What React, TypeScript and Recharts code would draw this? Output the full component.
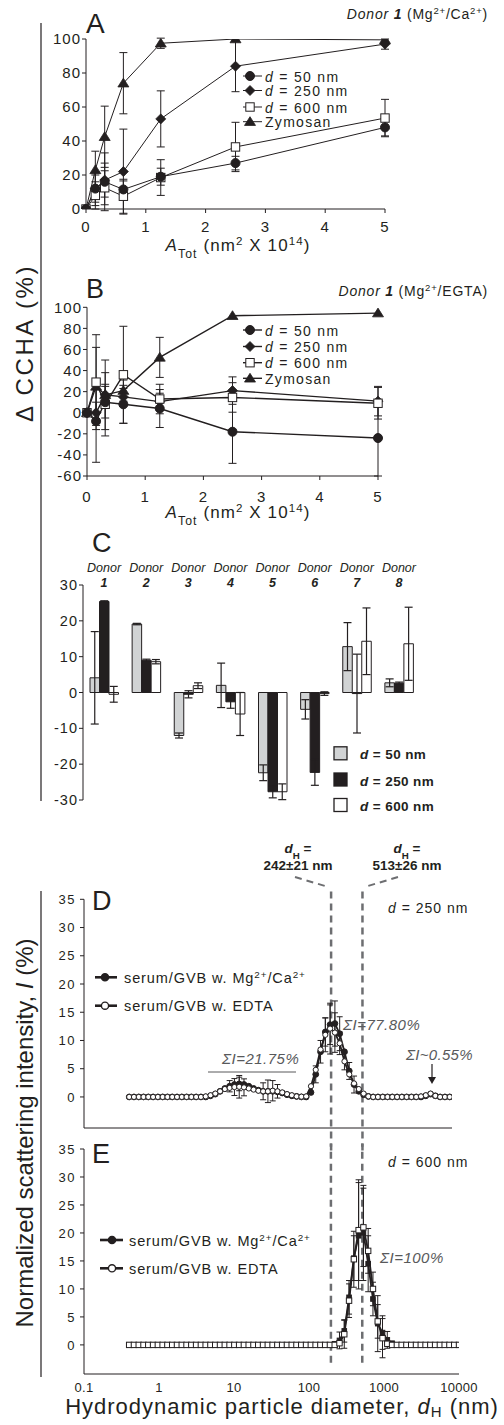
import React from "react";
import { LineChart, Line, BarChart, Bar, XAxis, YAxis, ErrorBar, ReferenceLine } from "recharts";

const FONT = "'Liberation Sans', Arial, Helvetica, sans-serif";
const INK = "#231f20";
const GREY = "#6d6e71";
const NOTE = "#58595b";
const LIGHT = "#d1d3d4";

// ---- panels A & B : total particle surface (nm² x 10^14)
const A_TOT = [0, 0.156, 0.3125, 0.625, 1.25, 2.5, 5];
const A_TICKS = [0, 1, 2, 3, 4, 5];

// A: Mg2+/Ca2+
const CA_D50 = [0, 12, 16, 11.5, 19, 27, 48];
const CA_D50_ERR = [0, 10, 17, 5, 5, 4, 5];
const CA_D250 = [0, 12, 17, 22, 53, 84, 97];
const CA_D250_ERR = [0, 8, 10, 25, 16.5, 15, 3];
const CA_D600 = [0, 8, 12.5, 7.5, 18.5, 36.5, 53.5];
const CA_D600_ERR = [0, 8, 10, 10, 10.5, 14.5, 11];
const CA_ZYM = [0, 23, 42.5, 74, 97.5, 100, 99.5];
const CA_ZYM_ERR = [0, 11, 18, 18, 3, 0, 0];

// B: Mg2+/EGTA
const EG_D50 = [0, -8, 10, 8, 4, -18, -24];
const EG_D50_ERR = [0, 39, 15, 18, 18, 30, 36];
const EG_D250 = [0, 0, 17, 15, 10.5, 21, 11];
const EG_D250_ERR = [0, 10, 10, 8, 8, 13, 14];
const EG_D600 = [0, 29, 8, 36, 13, 14.5, 9];
const EG_D600_ERR = [0, 45, 30, 46, 14, 14, 15];
const EG_ZYM = [0, 25, 17, 21, 52.5, 92, 94.5];
const EG_ZYM_ERR = [0, 37, 33, 10, 19, 0, 0];

// ---- panel C : donors
const DONORS = ["1", "2", "3", "4", "5", "6", "7", "8"];
const C_D50 = [4.1, 19.1, -12, 2, -22.4, -4.7, 12.8, 2.7];
const C_D50_ERR = [12.9, 0.2, 0.7, 6.2, 2.2, 2.7, 6.7, 1.1];
const C_D250 = [25.4, 9.0, -0.5, -2.6, -27.7, -22.3, -0.3, 2.6];
const C_D250_ERR = [0.2, 0.3, 1, 1.8, 1.7, 3.6, 11, 0.3];
const C_D600 = [-0.5, 8.6, 1.9, -6, -27.7, -0.3, 14.3, 13.6];
const C_D600_ERR = [2.2, 0.6, 0.8, 6, 2.2, 0.5, 9.3, 10.2];

// ---- panels D & E : DLS size classes (nm)
const BINS = [
  0.4, 0.4632, 0.5365, 0.6213, 0.7195, 0.8332, 0.9649, 1.117, 1.294, 1.499,
  1.736, 2.01, 2.328, 2.696, 3.122, 3.615, 4.187, 4.849, 5.615, 6.503,
  7.531, 8.721, 10.1, 11.7, 13.54, 15.69, 18.17, 21.04, 24.36, 28.21,
  32.67, 37.84, 43.82, 50.75, 58.77, 68.06, 78.82, 91.28, 105.7, 122.4,
  141.8, 164.2, 190.1, 220.2, 255, 295.3, 342, 396.1, 458.7, 531.2,
  615.1, 712.4, 825, 955.4, 1106, 1281, 1484, 1718, 1990, 2305,
  2669, 3091, 3580, 4145, 4801, 5560, 6439, 7456, 8635, 10000,
];

// D: d = 250 nm (68 classes, up to 7456 nm)
const D_MG = [
  0, 0, 0, 0, 0, 0, 0, 0, 0, 0,
  0, 0, 0, 0, 0, 0, 0, 0.2, 0.5, 1.0,
  1.5, 1.9, 2.2, 2.3, 2.2, 1.9, 1.5, 1.2, 1.0, 1.0,
  1.0, 0.9, 0.7, 0.4, 0.2, 0.1, 0, 0, 0.8, 4.0,
  8.0, 11.5, 12.8, 13.0, 11.2, 8.0, 4.6, 2.2, 1.0, 0.4,
  0.1, 0, 0, 0, 0, 0, 0, 0, 0, 0,
  0, 0, 0.2, 0.5, 0.2, 0, 0, 0,
];
const D_MG_ERR = [
  0, 0, 0, 0, 0, 0, 0, 0, 0, 0,
  0, 0, 0, 0, 0, 0, 0, 0, 0, 0,
  0, 1.0, 0, 1.2, 0, 0, 0, 0, 0, 0,
  0, 0, 0, 0, 0, 0, 0, 0, 0, 1.5,
  2.0, 2.5, 3.5, 4.0, 3.0, 0, 1.5, 1.5, 0, 0,
  0, 0, 0, 0, 0, 0, 0, 0, 0, 0,
  0, 0, 0, 0, 0, 0, 0, 0,
];
const D_EDTA = [
  0, 0, 0, 0, 0, 0, 0, 0, 0, 0,
  0, 0, 0, 0, 0, 0, 0.1, 0.3, 0.6, 1.0,
  1.4, 1.6, 1.75, 1.8, 1.7, 1.5, 1.3, 1.1, 1.0, 1.0,
  1.1, 1.0, 0.8, 0.5, 0.3, 0.1, 0.05, 0.1, 1.9, 4.8,
  8.4, 11.0, 12.1, 11.4, 9.5, 6.3, 4.0, 2.4, 1.4, 0.6,
  0.1, 0, 0, 0, 0, 0, 0, 0, 0, 0,
  0, 0.1, 0.3, 0.6, 0.2, 0, 0, 0,
];
const D_EDTA_ERR = [
  0, 0, 0, 0, 0, 0, 0, 0, 0, 0,
  0, 0, 0, 0, 0, 0, 0, 0, 0, 0,
  0, 0, 1.5, 2.0, 1.5, 0, 0, 0, 1.5, 2.0,
  1.8, 1.2, 0, 0, 0, 0, 0, 0, 0, 0,
  0, 3.0, 4.5, 3.5, 2.0, 1.5, 0, 0, 0, 0,
  0, 0, 0, 0, 0, 0, 0, 0, 0, 0,
  0, 0, 0, 0, 0, 0, 0, 0,
];

// E: d = 600 nm (all 70 classes)
const E_MG = [
  0, 0, 0, 0, 0, 0, 0, 0, 0, 0,
  0, 0, 0, 0, 0, 0, 0, 0, 0, 0,
  0, 0, 0, 0, 0, 0, 0, 0, 0, 0,
  0, 0, 0, 0, 0, 0, 0, 0, 0, 0,
  0, 0, 0, 0.2, 0.8, 2.5, 8.5, 15.5, 19.5, 20.0,
  14.5, 8.2, 3.8, 2.2, 0.9, 0.3, 0, 0, 0, 0,
  0, 0, 0, 0, 0, 0, 0, 0, 0, 0,
];
const E_MG_ERR = [
  0, 0, 0, 0, 0, 0, 0, 0, 0, 0,
  0, 0, 0, 0, 0, 0, 0, 0, 0, 0,
  0, 0, 0, 0, 0, 0, 0, 0, 0, 0,
  0, 0, 0, 0, 0, 0, 0, 0, 0, 0,
  0, 0, 0, 0, 1.5, 2.0, 3.0, 4.0, 9.5, 8.5,
  5.0, 3.0, 5.0, 3.0, 1.5, 0, 0, 0, 0, 0,
  0, 0, 0, 0, 0, 0, 0, 0, 0, 0,
];
const E_EDTA = [
  0, 0, 0, 0, 0, 0, 0, 0, 0, 0,
  0, 0, 0, 0, 0, 0, 0, 0, 0, 0,
  0, 0, 0, 0, 0, 0, 0, 0, 0, 0,
  0, 0, 0, 0, 0, 0, 0, 0, 0, 0,
  0, 0, 0, 0, 0.3, 1.9, 7.9, 15.3, 20.5, 21.0,
  16.8, 10.0, 4.2, 1.2, 0.2, 0, 0, 0, 0, 0,
  0, 0, 0, 0, 0, 0, 0, 0, 0, 0,
];
const E_EDTA_ERR = [
  0, 0, 0, 0, 0, 0, 0, 0, 0, 0,
  0, 0, 0, 0, 0, 0, 0, 0, 0, 0,
  0, 0, 0, 0, 0, 0, 0, 0, 0, 0,
  0, 0, 0, 0, 0, 0, 0, 0, 0, 0,
  0, 0, 0, 0, 0, 2.5, 3.0, 5.0, 9.0, 7.0,
  4.0, 3.0, 3.0, 3.5, 0, 0, 0, 0, 0, 0,
  0, 0, 0, 0, 0, 0, 0, 0, 0, 0,
];

const DH_MARKS = [196, 513];
const DLS_Y_TICKS = [0, 5, 10, 15, 20, 25, 30, 35];
const E_X_TICKS = [0.1, 1, 10, 100, 1000, 10000];
const DECADES = [0.1, 1, 10, 100, 1000];
const STEPS = [1, 2, 3, 4, 5, 6, 7, 8, 9];
const MINOR_E = [...DECADES.flatMap((d) => STEPS.map((s) => +(d * s).toPrecision(3))), 10000];
const MINOR_D = MINOR_E.filter((v) => v <= 8000);

const caRows = A_TOT.map((x, i) => ({
  x,
  d50: CA_D50[i], e50: CA_D50_ERR[i],
  d250: CA_D250[i], e250: CA_D250_ERR[i],
  d600: CA_D600[i], e600: CA_D600_ERR[i],
  zym: CA_ZYM[i], ezym: CA_ZYM_ERR[i],
}));
const egRows = A_TOT.map((x, i) => ({
  x,
  d50: EG_D50[i], e50: EG_D50_ERR[i],
  d250: EG_D250[i], e250: EG_D250_ERR[i],
  d600: EG_D600[i], e600: EG_D600_ERR[i],
  zym: EG_ZYM[i], ezym: EG_ZYM_ERR[i],
}));
const cRows = DONORS.map((donor, i) => ({
  donor,
  d50: C_D50[i], e50: C_D50_ERR[i],
  d250: C_D250[i], e250: C_D250_ERR[i],
  d600: C_D600[i], e600: C_D600_ERR[i],
}));
const dRows = D_MG.map((mg, i) => ({ d: BINS[i], mg, emg: D_MG_ERR[i], edta: D_EDTA[i], eedta: D_EDTA_ERR[i] }));
const eRows = E_MG.map((mg, i) => ({ d: BINS[i], mg, emg: E_MG_ERR[i], edta: E_EDTA[i], eedta: E_EDTA_ERR[i] }));

type Kind = "circle" | "diamond" | "square" | "triangle";

function Shape({ kind, cx, cy, s, fill }: { kind: Kind; cx: number; cy: number; s: number; fill: string }) {
  if (kind === "circle") return <circle cx={cx} cy={cy} r={s} fill={fill} stroke={INK} strokeWidth={1} />;
  if (kind === "square")
    return <rect x={cx - s} y={cy - s} width={2 * s} height={2 * s} fill={fill} stroke={INK} strokeWidth={1} />;
  if (kind === "diamond")
    return <polygon points={`${cx},${cy - s} ${cx + s},${cy} ${cx},${cy + s} ${cx - s},${cy}`} fill={fill} stroke={INK} strokeWidth={0.8} />;
  return (
    <polygon
      points={`${cx},${cy - s} ${cx + s * 1.1},${cy + s * 0.75} ${cx - s * 1.1},${cy + s * 0.75}`}
      fill={fill}
      stroke={INK}
      strokeWidth={0.8}
    />
  );
}

const dot = (kind: Kind, s: number, fill: string) => (p: any) => {
  if (p.cx == null || p.cy == null) return <g key={`n${p.index}`} />;
  return <Shape key={`d${p.index}`} kind={kind} cx={p.cx} cy={p.cy} s={s} fill={fill} />;
};

const tickA = { fill: INK, fontSize: 15, letterSpacing: 1 };
const tickDLS = { fill: INK, fontSize: 13, letterSpacing: 1.5 };

const SERIES_AB: { key: string; err: string; kind: Kind; s: number; fill: string }[] = [
  { key: "zym", err: "ezym", kind: "triangle", s: 5, fill: INK },
  { key: "d250", err: "e250", kind: "diamond", s: 5, fill: INK },
  { key: "d600", err: "e600", kind: "square", s: 4.2, fill: "#fff" },
  { key: "d50", err: "e50", kind: "circle", s: 4.5, fill: INK },
];

function AreaPanel({ rows, top, height, plotTop, plotBottom, plotLeft, plotRight, yDomain, yTicks, tickMargin, lineW }: any) {
  const axisH = 30;
  return (
    <div style={{ position: "absolute", left: 0, top }}>
      <LineChart
        width={504}
        height={height}
        data={rows}
        margin={{ top: plotTop - top, right: 504 - plotRight, bottom: height - (plotBottom - top) - axisH, left: 0 }}
      >
        <XAxis
          type="number"
          dataKey="x"
          domain={[0, 5]}
          ticks={A_TICKS}
          interval={0}
          height={axisH}
          tickSize={4}
          tickMargin={tickMargin}
          stroke={INK}
          tick={tickA}
        />
        <YAxis
          type="number"
          domain={yDomain}
          ticks={yTicks}
          interval={0}
          width={plotLeft}
          tickSize={4}
          tickMargin={1}
          stroke={INK}
          tick={tickA}
          allowDataOverflow
        />
        {SERIES_AB.map((sr) => (
          <Line
            key={sr.key}
            dataKey={sr.key}
            stroke={INK}
            strokeWidth={lineW}
            dot={dot(sr.kind, sr.s, sr.fill)}
            activeDot={false}
            isAnimationActive={false}
          >
            <ErrorBar dataKey={sr.err} width={4} stroke={INK} strokeWidth={1} />
          </Line>
        ))}
      </LineChart>
    </div>
  );
}

function DonorTick({ x, y, payload }: any) {
  return (
    <g>
      <text x={x} y={y - 13} textAnchor="middle" fontStyle="italic" fontSize={12.5} fill={INK}>
        Donor
      </text>
      <text x={x} y={y + 2} textAnchor="middle" fontStyle="italic" fontWeight="bold" fontSize={12.5} fill={INK}>
        {payload.value}
      </text>
    </g>
  );
}

function DonorPanel() {
  const top = 560;
  return (
    <div style={{ position: "absolute", left: 0, top }}>
      <BarChart width={504} height={250} data={cRows} barSize={9.5} barGap={0} margin={{ top: 5, right: 84, bottom: 10, left: 0 }}>
        <XAxis dataKey="donor" orientation="top" height={20} axisLine={false} tickLine={false} tickSize={0} tickMargin={0} tick={<DonorTick />} interval={0} />
        <YAxis type="number" domain={[-30, 30]} ticks={[-30, -20, -10, 0, 10, 20, 30]} interval={0} width={83} tickSize={4} tickMargin={1} stroke={INK} tick={{ fill: INK, fontSize: 14.5, letterSpacing: 1 }} />
        <Bar dataKey="d50" fill={LIGHT} stroke={INK} strokeWidth={1} isAnimationActive={false}>
          <ErrorBar dataKey="e50" width={4} stroke={INK} strokeWidth={1.2} />
        </Bar>
        <Bar dataKey="d250" fill={INK} stroke={INK} strokeWidth={1} isAnimationActive={false}>
          <ErrorBar dataKey="e250" width={4} stroke={INK} strokeWidth={1.2} />
        </Bar>
        <Bar dataKey="d600" fill="#fff" stroke={INK} strokeWidth={1} isAnimationActive={false}>
          <ErrorBar dataKey="e600" width={4} stroke={INK} strokeWidth={1.2} />
        </Bar>
      </BarChart>
    </div>
  );
}

function DlsPanel({ rows, top, height, plotTop, plotBottom, plotRight, xMax, yMin, minor, withLabels, openKind, refTop, refBottom }: any) {
  const axisH = withLabels ? 30 : 6;
  return (
    <div style={{ position: "absolute", left: 0, top }}>
      <LineChart
        width={504}
        height={height}
        data={rows}
        margin={{ top: plotTop - top, right: 504 - plotRight, bottom: height - (plotBottom - top) - axisH, left: 0 }}
      >
        <XAxis
          type="number"
          dataKey="d"
          scale="log"
          domain={[0.1, xMax]}
          allowDataOverflow
          ticks={E_X_TICKS.filter((v) => v <= xMax)}
          interval={0}
          height={axisH}
          tickLine={false}
          tickSize={0}
          tickMargin={8.5}
          stroke={INK}
          tick={withLabels ? { fill: INK, fontSize: 13, letterSpacing: 0.3 } : false}
        />
        <XAxis
          xAxisId="minor"
          type="number"
          scale="log"
          domain={[0.1, xMax]}
          allowDataOverflow
          ticks={minor}
          interval={0}
          mirror
          height={1}
          axisLine={false}
          tick={false}
          tickSize={3}
          stroke={INK}
        />
        <YAxis type="number" domain={[yMin, 35]} ticks={DLS_Y_TICKS} interval={0} width={84} tickSize={4} tickMargin={4} stroke={INK} tick={tickDLS} allowDataOverflow />
        {DH_MARKS.map((m) => (
          <ReferenceLine
            key={m}
            segment={[{ x: m, y: refBottom }, { x: m, y: refTop }]}
            stroke={GREY}
            strokeWidth={2.5}
            strokeDasharray="7 5"
            ifOverflow="visible"
          />
        ))}
        <Line dataKey="mg" stroke={INK} strokeWidth={1.8} dot={dot(openKind === "circle" ? "circle" : "square", openKind === "circle" ? 2.9 : 2.3, INK)} activeDot={false} isAnimationActive={false}>
          <ErrorBar dataKey="emg" width={3} stroke={INK} strokeWidth={1} />
        </Line>
        <Line dataKey="edta" stroke={INK} strokeWidth={1.8} dot={dot(openKind, openKind === "circle" ? 2.6 : 2.7, "#fff")} activeDot={false} isAnimationActive={false}>
          <ErrorBar dataKey="eedta" width={3} stroke={INK} strokeWidth={1} />
        </Line>
      </LineChart>
    </div>
  );
}

const SUP = { baselineShift: "super", fontSize: "68%" } as any;
const SUB = { baselineShift: "sub", fontSize: "72%" } as any;

function LegendAB({ y0, dy }: { y0: number[]; dy?: number }) {
  const labels = ["50 nm", "250 nm", "600 nm"];
  const kinds: Kind[] = ["circle", "diamond", "square", "triangle"];
  const sizes = [4.5, 5, 4.2, 5];
  const fills = [INK, INK, "#fff", INK];
  return (
    <g>
      {y0.map((y, i) => (
        <g key={i}>
          <line x1={243} x2={262} y1={y} y2={y} stroke={INK} strokeWidth={dy ?? 1} />
          <Shape kind={kinds[i]} cx={250} cy={y} s={sizes[i]} fill={fills[i]} />
          <text x={265} y={y + 5.5} fontSize={14} letterSpacing={1.3} fill={INK}>
            {i < 3 ? (
              <>
                <tspan fontStyle="italic">d</tspan> = {labels[i]}
              </>
            ) : (
              "Zymosan"
            )}
          </text>
        </g>
      ))}
    </g>
  );
}

function AtotTitle({ x, y }: { x: number; y: number }) {
  return (
    <text x={x} y={y} textAnchor="middle" fontSize={17} letterSpacing={1.1} fill={INK}>
      <tspan fontStyle="italic">A</tspan>
      <tspan {...SUB}>Tot</tspan>
      <tspan> (nm</tspan>
      <tspan {...SUP}>2</tspan>
      <tspan> X 10</tspan>
      <tspan {...SUP}>14</tspan>
      <tspan>)</tspan>
    </text>
  );
}

function LegendDLS({ x1, x2, mx, tx, ys }: { x1: number; x2: number; mx: number; tx: number; ys: number[] }) {
  return (
    <g>
      {ys.map((y, i) => (
        <g key={i}>
          <line x1={x1} x2={x2} y1={y} y2={y} stroke={INK} strokeWidth={2.6} />
          <circle cx={mx} cy={y} r={3.6} fill={i === 0 ? INK : "#fff"} stroke={INK} strokeWidth={1.4} />
          <text x={tx} y={y + 5.5} fontSize={14.5} letterSpacing={0.9} fill={INK}>
            {i === 0 ? (
              <>
                serum/GVB w. Mg<tspan {...SUP}>2+</tspan>/Ca<tspan {...SUP}>2+</tspan>
              </>
            ) : (
              "serum/GVB w. EDTA"
            )}
          </text>
        </g>
      ))}
    </g>
  );
}

function Overlay() {
  return (
    <svg width={504} height={1425} style={{ position: "absolute", left: 0, top: 0, pointerEvents: "none" }}>
      <line x1={41} x2={41} y1={23} y2={801} stroke={INK} strokeWidth={1.2} />
      <line x1={41} x2={41} y1={891} y2={1377} stroke={INK} strokeWidth={1.2} />

      <text transform="translate(33,343) rotate(-90)" textAnchor="middle" fontSize={24} letterSpacing={2.6} fill={INK}>
        Δ CCHA (%)
      </text>
      <text transform="translate(33,1133) rotate(-90)" textAnchor="middle" fontSize={24} fill={INK}>
        Normalized scattering intensity, <tspan fontStyle="italic">I</tspan> (%)
      </text>

      {/* A */}
      <text x={86} y={33} fontSize={28} fill={INK}>A</text>
      <text x={488} y={19} textAnchor="end" fontSize={14} letterSpacing={0.8} fill={INK}>
        <tspan fontStyle="italic">Donor </tspan>
        <tspan fontStyle="italic" fontWeight="bold">1</tspan>
        <tspan> (Mg</tspan>
        <tspan {...SUP}>2+</tspan>
        <tspan>/Ca</tspan>
        <tspan {...SUP}>2+</tspan>
        <tspan>)</tspan>
      </text>
      <LegendAB y0={[76, 90.5, 107, 121.7]} />
      <AtotTitle x={238} y={251} />

      {/* B */}
      <text x={86} y={298} fontSize={27} fill={INK}>B</text>
      <text x={488} y={296} textAnchor="end" fontSize={14} letterSpacing={0.8} fill={INK}>
        <tspan fontStyle="italic">Donor </tspan>
        <tspan fontStyle="italic" fontWeight="bold">1</tspan>
        <tspan> (Mg</tspan>
        <tspan {...SUP}>2+</tspan>
        <tspan>/EGTA)</tspan>
      </text>
      <LegendAB y0={[330, 346.5, 362.7, 378.3]} dy={1.4} />
      <AtotTitle x={238} y={518} />

      {/* C */}
      <text x={92} y={552} fontSize={27} fill={INK}>C</text>
      {[
        { y: 753.3, fill: LIGHT, label: "50 nm" },
        { y: 779.5, fill: INK, label: "250 nm" },
        { y: 805, fill: "#fff", label: "600 nm" },
      ].map((l) => (
        <g key={l.label}>
          <rect x={334} y={l.y - 6.5} width={13} height={13} fill={l.fill} stroke={INK} strokeWidth={1.3} />
          <text x={360} y={l.y + 6} fontSize={13.5} fontWeight="bold" letterSpacing={0.4} fill={INK}>
            <tspan fontStyle="italic">d</tspan> = {l.label}
          </text>
        </g>
      ))}

      {/* d_H annotations */}
      <text x={298} y={853} textAnchor="middle" fontSize={13.5} fontWeight="bold" fill={INK}>
        <tspan fontStyle="italic">d</tspan>
        <tspan {...SUB}>H</tspan>
        <tspan> =</tspan>
      </text>
      <text x={298} y={870} textAnchor="middle" fontSize={13.5} fontWeight="bold" fill={INK}>242±21 nm</text>
      <text x={407} y={853} textAnchor="middle" fontSize={13.5} fontWeight="bold" fill={INK}>
        <tspan fontStyle="italic">d</tspan>
        <tspan {...SUB}>H</tspan>
        <tspan> =</tspan>
      </text>
      <text x={407} y={870} textAnchor="middle" fontSize={13.5} fontWeight="bold" fill={INK}>513±26 nm</text>
      <line x1={295} y1={877} x2={325} y2={886} stroke={GREY} strokeWidth={2} strokeDasharray="7 5" />
      <line x1={398} y1={877} x2={368} y2={886} stroke={GREY} strokeWidth={2} strokeDasharray="7 5" />

      {/* D */}
      <text x={92} y={910} fontSize={27} fill={INK}>D</text>
      <text x={388} y={913} fontSize={14} letterSpacing={1} fill={INK}>
        <tspan fontStyle="italic">d</tspan> = 250 nm
      </text>
      <LegendDLS x1={95} x2={117} mx={105} tx={124} ys={[977.3, 1005.7]} />
      <text x={343} y={1030} fontSize={15} fontStyle="italic" letterSpacing={0.5} fill={NOTE}>ΣI=77.80%</text>
      <text x={222} y={1064} fontSize={15} fontStyle="italic" letterSpacing={0.5} fill={NOTE}>ΣI=21.75%</text>
      <line x1={208} x2={296} y1={1072} y2={1072} stroke={NOTE} strokeWidth={1} />
      <text x={406} y={1060} fontSize={15} fontStyle="italic" letterSpacing={0.3} fill={NOTE}>ΣI~0.55%</text>
      <line x1={432} x2={432} y1={1064} y2={1078} stroke={INK} strokeWidth={1.2} />
      <polygon points="428,1077 436,1077 432,1084" fill={INK} />

      {/* E */}
      <text x={92} y={1163} fontSize={27} fill={INK}>E</text>
      <text x={388} y={1167} fontSize={14} letterSpacing={1} fill={INK}>
        <tspan fontStyle="italic">d</tspan> = 600 nm
      </text>
      <LegendDLS x1={100} x2={123} mx={112} tx={129} ys={[1240, 1268.3]} />
      <text x={380} y={1263} fontSize={15} fontStyle="italic" letterSpacing={0.5} fill={NOTE}>ΣI=100%</text>

      <text x={282} y={1414} textAnchor="middle" fontSize={22} letterSpacing={1} fill={INK}>
        Hydrodynamic particle diameter, <tspan fontStyle="italic">d</tspan>
        <tspan baselineShift="-3" fontSize="68%">H</tspan>
        <tspan> (nm)</tspan>
      </text>
    </svg>
  );
}

export default function App() {
  return (
    <div style={{ position: "absolute", left: 0, top: 0, width: 504, height: 1425, background: "#fff", fontFamily: FONT, overflow: "hidden" }}>
      <AreaPanel
        rows={caRows}
        top={0}
        height={240}
        plotTop={39}
        plotBottom={209}
        plotLeft={86}
        plotRight={385}
        yDomain={[0, 100]}
        yTicks={[0, 20, 40, 60, 80, 100]}
        tickMargin={8}
        lineW={1}
      />
      <AreaPanel
        rows={egRows}
        top={250}
        height={262}
        plotTop={307.3}
        plotBottom={476}
        plotLeft={87}
        plotRight={378}
        yDomain={[-60, 100]}
        yTicks={[-60, -40, -20, 0, 20, 40, 60, 80, 100]}
        tickMargin={11}
        lineW={1.4}
      />
      <DonorPanel />
      <DlsPanel
        rows={dRows}
        top={870}
        height={285}
        plotTop={899.3}
        plotBottom={1128}
        plotRight={452}
        xMax={8000}
        yMin={-5.5}
        minor={MINOR_D}
        withLabels={false}
        openKind="circle"
        refTop={37.2}
        refBottom={-9.5}
      />
      <DlsPanel
        rows={eRows}
        top={1120}
        height={305}
        plotTop={1149}
        plotBottom={1374}
        plotRight={459}
        xMax={10000}
        yMin={-5.2}
        minor={MINOR_E}
        withLabels
        openKind="square"
        refTop={36}
        refBottom={-3.2}
      />
      <Overlay />
    </div>
  );
}
